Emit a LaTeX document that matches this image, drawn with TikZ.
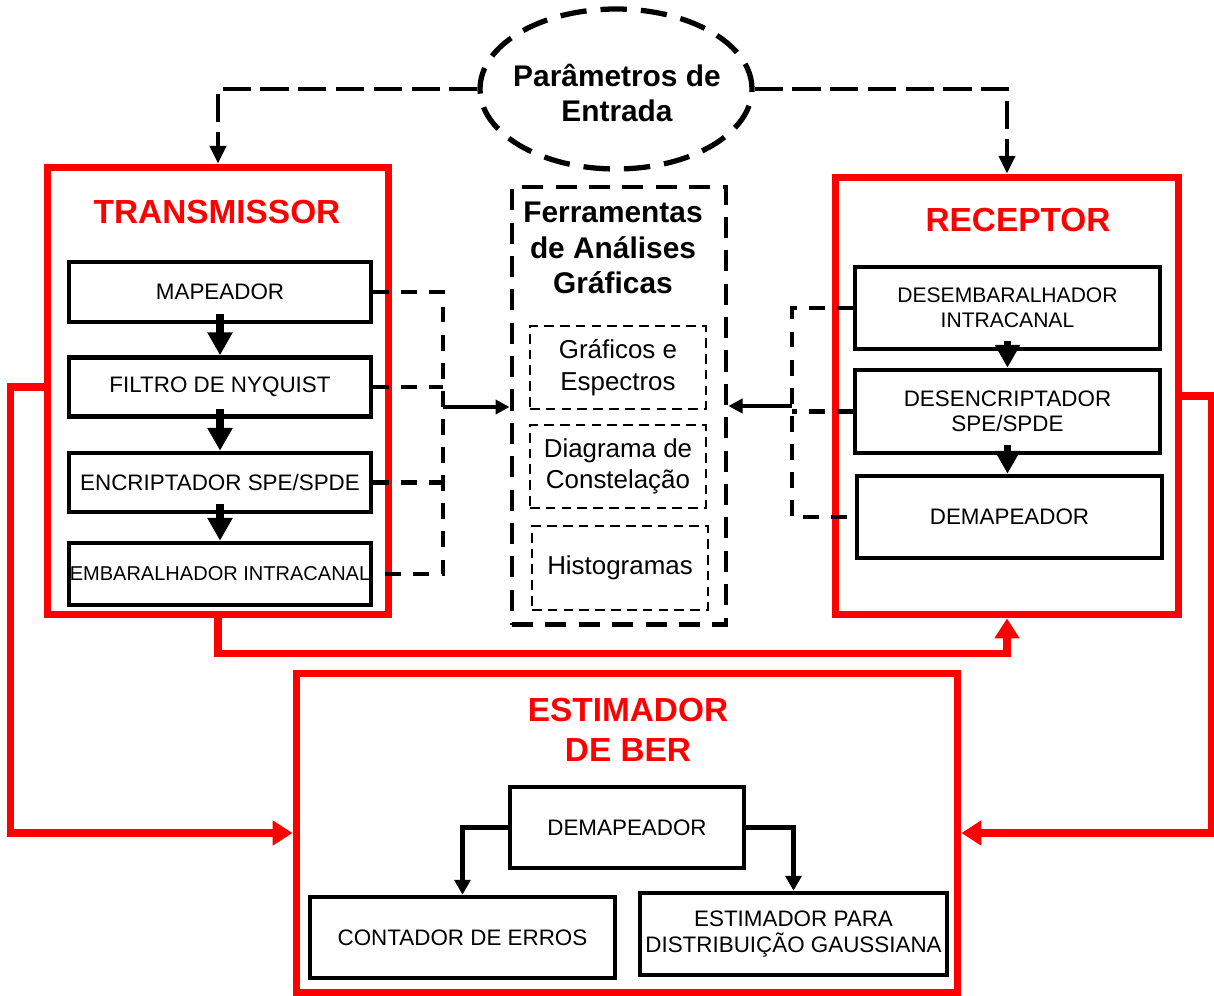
\documentclass[tikz,border=0pt]{standalone}
\usepackage{fontspec}
\setmainfont{Liberation Sans}
\usetikzlibrary{shapes.geometric,arrows.meta}

\tikzset{
  bloco/.style={draw, line width=2.6pt, align=center, inner sep=0pt, font=\fontsize{12.75}{15}\selectfont},
  caixa/.style={draw=red, line width=4pt, inner sep=0pt},
  titulo/.style={text=red, align=center, font=\bfseries\fontsize{19}{22.7}\selectfont},
  ferr/.style={draw, line width=1.2pt, dash pattern=on 5.5pt off 3.5pt, align=center, inner sep=0pt, font=\fontsize{14.75}{18}\selectfont},
  tracejado/.style={line width=2.8pt, dash pattern=on 9pt off 7pt},
  longo/.style={line width=2.8pt, dash pattern=on 16pt off 5.5pt, -{Triangle[length=10pt,width=9pt]}},
  seta/.style={line width=4.5pt, -{Triangle[length=13pt,width=13.6pt]}},
  setared/.style={draw=red, line width=4pt, -{Triangle[length=11.3pt,width=13.6pt]}},
  setafina/.style={line width=3pt, -{Triangle[length=8.5pt,width=9pt]}},
}

\begin{document}
\begin{tikzpicture}[x=0.02cm, y=-0.02cm]
\useasboundingbox (0,0) rectangle (1214,996);

% blocos principais
\node[caixa, minimum width=6.84cm, minimum height=8.96cm] (trans) at (218,391) {};
\node[caixa, minimum width=6.88cm, minimum height=8.76cm] (rec) at (1007,396) {};
\node[caixa, minimum width=13.24cm, minimum height=6.4cm] (est) at (627,833) {};
\node[draw, line width=2.8pt, dash pattern=on 12pt off 7pt, minimum width=4.28cm, minimum height=8.76cm] (ferr) at (619,406) {};
\node[draw, ellipse, line width=3pt, dash pattern=on 15pt off 8pt, minimum width=5.44cm, minimum height=3.2cm] (par) at (616,89) {};
\node[align=center, font=\bfseries\fontsize{17}{20.4}\selectfont] (parT) at (617,93) {Parâmetros de\\Entrada};

\node[titulo] (transT) at (217,212) {TRANSMISSOR};
\node[titulo] (recT) at (1018,220) {RECEPTOR};
\node[titulo] (estT) at (628,730) {ESTIMADOR\\DE BER};
\node[align=center, font=\bfseries\fontsize{17}{20.4}\selectfont] (ferrT) at (613,248) {Ferramentas\\de Análises\\Gráficas};

% transmissor
\node[bloco, minimum width=6.04cm, minimum height=1.2cm] (map) at (220,292) {MAPEADOR};
\node[bloco, minimum width=6.04cm, minimum height=1.18cm] (fil) at (220,387) {FILTRO DE NYQUIST};
\node[bloco, minimum width=6.04cm, minimum height=1.18cm] (enc) at (220,482.5) {ENCRIPTADOR SPE/SPDE};
\node[bloco, minimum width=6.04cm, minimum height=1.24cm, font=\fontsize{11.4}{14}\selectfont] (emb) at (220,574) {EMBARALHADOR INTRACANAL};

% receptor
\node[bloco, minimum width=6.1cm, minimum height=1.64cm, font=\fontsize{12}{14.5}\selectfont] (desemb) at (1007.5,308) {DESEMBARALHADOR\\INTRACANAL};
\node[bloco, minimum width=6.1cm, minimum height=1.66cm, font=\fontsize{12.75}{14.5}\selectfont] (desenc) at (1007.5,411.5) {DESENCRIPTADOR\\SPE/SPDE};
\node[bloco, minimum width=6.1cm, minimum height=1.64cm] (demapR) at (1009.5,517) {DEMAPEADOR};

% ferramentas
\node[ferr, minimum width=3.52cm, minimum height=1.66cm] (graf) at (618,367.5) {Gráficos e\\Espectros};
\node[ferr, minimum width=3.52cm, minimum height=1.66cm] (diag) at (618,466.5) {Diagrama de\\Constelação};
\node[ferr, minimum width=3.52cm, minimum height=1.68cm] (hist) at (620,568) {Histogramas};

% estimador
\node[bloco, minimum width=4.68cm, minimum height=1.62cm] (demE) at (627,827.5) {DEMAPEADOR};
\node[bloco, minimum width=6.1cm, minimum height=1.62cm] (cont) at (462.5,937.5) {CONTADOR DE ERROS};
\node[bloco, minimum width=6.14cm, minimum height=1.64cm] (gauss) at (793.5,934) {ESTIMADOR PARA\\DISTRIBUIÇÃO GAUSSIANA};

% parametros de entrada
\draw[longo] (par.west) -| (trans.north);
\draw[longo] (par.east) -| (rec.north);

% barramentos tracejados
\coordinate (tbus) at (443,407);
\draw[tracejado] (map.east) -- (map.east -| tbus) -- (emb.east -| tbus) -- (emb.east);
\draw[tracejado] (fil.east) -- (fil.east -| tbus);
\draw[tracejado] (enc.east) -- (enc.east -| tbus);
\draw[line width=2.3pt, -{Triangle[length=8pt,width=8pt]}] (tbus) -- (tbus -| ferr.west);

\coordinate (rbus) at (792,406);
\draw[tracejado] (desemb.west) -- (desemb.west -| rbus) -- (demapR.west -| rbus) -- (demapR.west);
\draw[tracejado] (desenc.west) -- (desenc.west -| rbus);
\draw[line width=2.3pt, -{Triangle[length=8pt,width=8pt]}] (rbus) -- (rbus -| ferr.east);

\foreach \a/\b in {map/fil, fil/enc, enc/emb, desemb/desenc} {
  \draw[seta] ([yshift=5.7pt]\a.south) -- (\b.north);
}
\draw[seta] ([yshift=5.7pt]desenc.south) -- (desenc.south |- demapR.north);

% ligacoes vermelhas
\draw[setared] (trans.south) -- ++(0,35) -| (rec.south);
\draw[setared] (trans.west |- fil.west) -- ++(-33,0) |- (est.west);
\draw[setared] (rec.east) -- ++(29,0) |- (est.east);

\draw[setafina] (demE.west) -| (cont.north);
\draw[setafina] (demE.east) -| (gauss.north);
\end{tikzpicture}
\end{document}
